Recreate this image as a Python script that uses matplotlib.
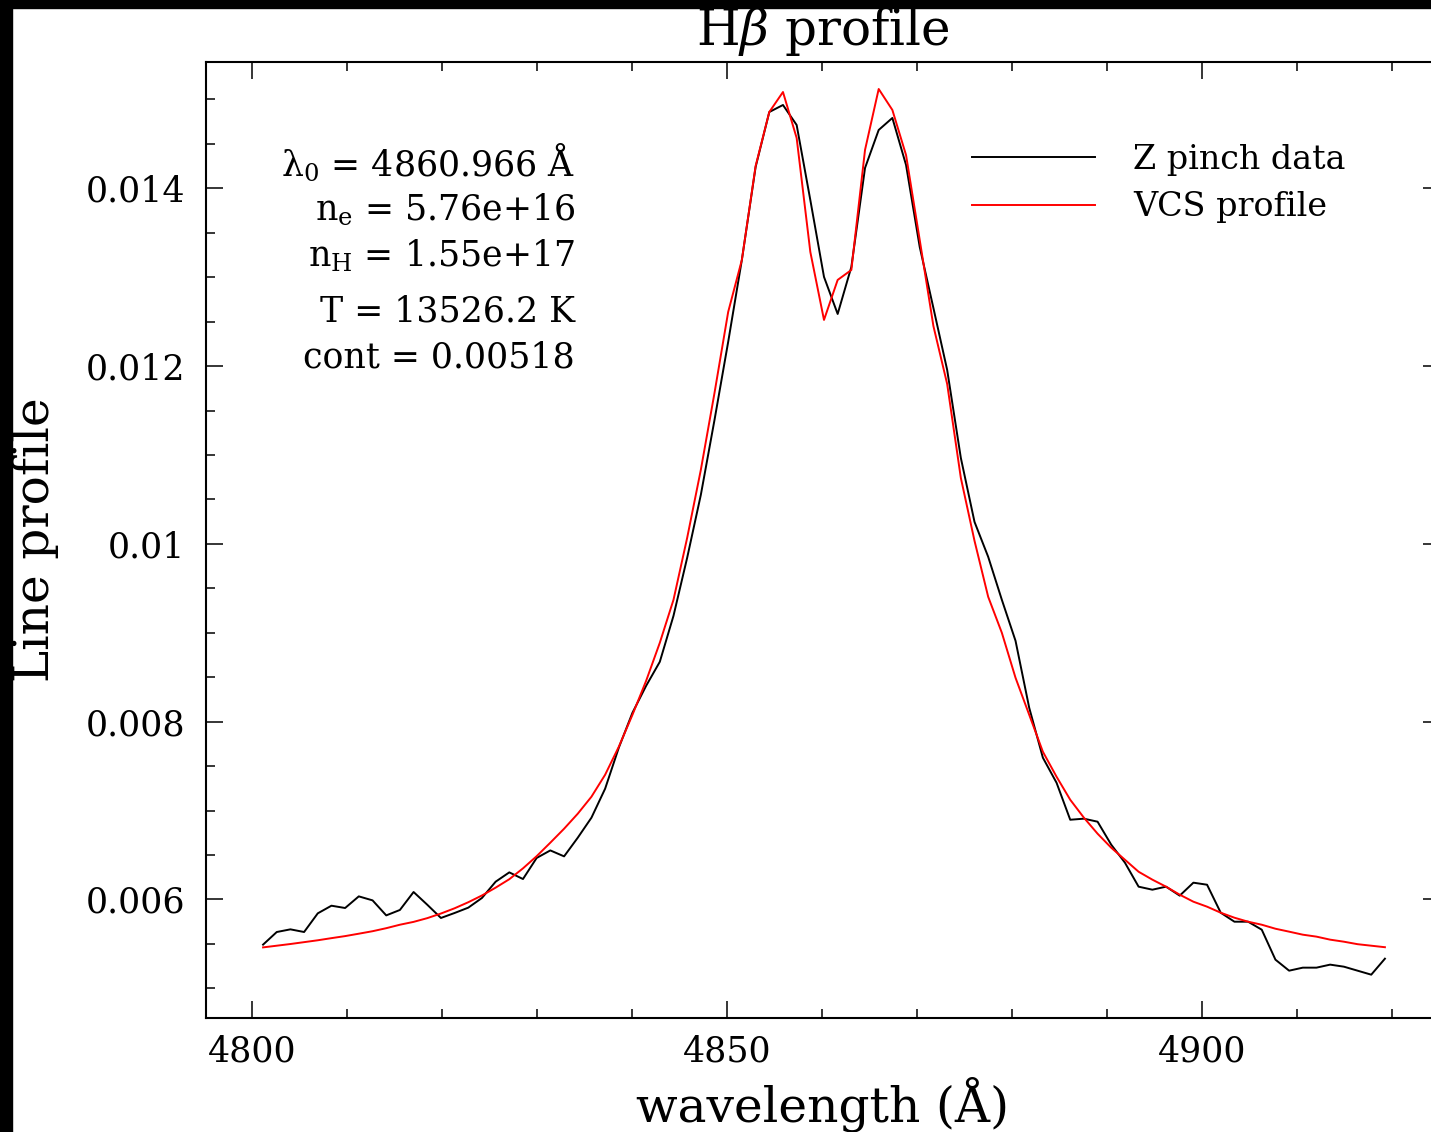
import matplotlib
matplotlib.use("Agg")
import matplotlib.pyplot as plt
from matplotlib.patches import Rectangle
from matplotlib.ticker import MultipleLocator, FuncFormatter

plt.rcParams['font.family'] = 'DejaVu Serif'
plt.rcParams['mathtext.fontset'] = 'dejavuserif'

# wavelength grid (Angstrom)
wavelength = [
    4801.16, 4802.60, 4804.04, 4805.48, 4806.92, 4808.36, 4809.80, 4811.24, 4812.69, 4814.13,
    4815.57, 4817.01, 4818.45, 4819.89, 4821.33, 4822.77, 4824.21, 4825.65, 4827.09, 4828.53,
    4829.97, 4831.41, 4832.86, 4834.30, 4835.74, 4837.18, 4838.62, 4840.06, 4841.50, 4842.94,
    4844.38, 4845.82, 4847.26, 4848.70, 4850.14, 4851.58, 4853.03, 4854.47, 4855.91, 4857.35,
    4858.79, 4860.23, 4861.67, 4863.11, 4864.55, 4865.99, 4867.43, 4868.87, 4870.31, 4871.75,
    4873.20, 4874.64, 4876.08, 4877.52, 4878.96, 4880.40, 4881.84, 4883.28, 4884.72, 4886.16,
    4887.60, 4889.04, 4890.48, 4891.92, 4893.36, 4894.81, 4896.25, 4897.69, 4899.13, 4900.57,
    4902.01, 4903.45, 4904.89, 4906.33, 4907.77, 4909.21, 4910.65, 4912.09, 4913.53, 4914.98,
    4916.42, 4917.86, 4919.30]

# measured Z pinch profile
zpinch = [
    0.005491, 0.005633, 0.005663, 0.005633, 0.005843, 0.005929, 0.005903, 0.006034, 0.005989, 0.005820,
    0.005881, 0.006083, 0.005940, 0.005791, 0.005847, 0.005907, 0.006016, 0.006199, 0.006304, 0.006229,
    0.006466, 0.006551, 0.006484, 0.006694, 0.006919, 0.007245, 0.007706, 0.008100, 0.008403, 0.008673,
    0.009190, 0.009843, 0.010551, 0.011394, 0.012272, 0.013194, 0.014240, 0.014858, 0.014937, 0.014712,
    0.013868, 0.013003, 0.012586, 0.013115, 0.014228, 0.014656, 0.014791, 0.014262, 0.013340, 0.012654,
    0.011957, 0.010967, 0.010247, 0.009854, 0.009370, 0.008909, 0.008156, 0.007594, 0.007312, 0.006896,
    0.006908, 0.006874, 0.006615, 0.006413, 0.006143, 0.006109, 0.006143, 0.006042, 0.006188, 0.006165,
    0.005850, 0.005749, 0.005749, 0.005659, 0.005322, 0.005198, 0.005232, 0.005232, 0.005266, 0.005243,
    0.005198, 0.005153, 0.005333]

# VCS model profile
vcs = [
    0.005460, 0.005479, 0.005498, 0.005519, 0.005540, 0.005564, 0.005587, 0.005614, 0.005642, 0.005676,
    0.005715, 0.005747, 0.005789, 0.005841, 0.005900, 0.005968, 0.006044, 0.006132, 0.006227, 0.006349,
    0.006486, 0.006638, 0.006795, 0.006964, 0.007155, 0.007402, 0.007717, 0.008077, 0.008459, 0.008887,
    0.009370, 0.010067, 0.010832, 0.011698, 0.012609, 0.013194, 0.014251, 0.014858, 0.015083, 0.014566,
    0.013284, 0.012519, 0.012969, 0.013081, 0.014431, 0.015117, 0.014881, 0.014374, 0.013419, 0.012451,
    0.011799, 0.010742, 0.010034, 0.009404, 0.008999, 0.008493, 0.008077, 0.007661, 0.007380, 0.007121,
    0.006919, 0.006739, 0.006581, 0.006446, 0.006311, 0.006222, 0.006143, 0.006053, 0.005974, 0.005918,
    0.005850, 0.005794, 0.005749, 0.005715, 0.005670, 0.005637, 0.005603, 0.005581, 0.005547, 0.005524,
    0.005496, 0.005479, 0.005462]

params = [r'λ$_0$ = 4860.966 Å',
          r'n$_\mathrm{e}$ = 5.76e+16',
          r'n$_\mathrm{H}$ = 1.55e+17',
          'T = 13526.2 K',
          'cont = 0.00518']

W, H = 1431, 1132
fig = plt.figure(figsize=(W / 100, H / 100), dpi=100)
ax = fig.add_axes([206 / W, 1 - 1017.7 / H, (1440 - 206) / W, (1017.7 - 61.7) / H])

ax.plot(wavelength, zpinch, color='black', lw=1.4, label='Z pinch data')
ax.plot(wavelength, vcs, color='red', lw=1.4, label='VCS profile')

ax.set_xlim(4795.15, 4925.1)
ax.set_ylim(0.004669, 0.015424)
ax.xaxis.set_major_locator(MultipleLocator(50))
ax.xaxis.set_minor_locator(MultipleLocator(10))
ax.yaxis.set_major_locator(MultipleLocator(0.002))
ax.yaxis.set_minor_locator(MultipleLocator(0.0005))
ax.yaxis.set_major_formatter(FuncFormatter(lambda v, p: '{:g}'.format(round(v, 6))))

ax.tick_params(which='both', direction='in', top=True, right=True, labelsize=25, width=1.1)
ax.tick_params(which='major', length=12.5)
ax.tick_params(which='minor', length=6.2)
ax.tick_params(axis='y', pad=15)
ax.tick_params(axis='x', pad=12)
for s in ax.spines.values():
    s.set_linewidth(1.5)

ax.set_xlabel('wavelength (Å)', fontsize=35, labelpad=6)
ax.set_ylabel('Line profile', fontsize=35, labelpad=19)
ax.set_title(r'H$\beta$ profile', fontsize=36, pad=12)

# fit parameters, right aligned, placed in pixels
baselines = [176.7, 220, 266.7, 321.7, 368]
for txt, yb in zip(params, baselines):
    fig.text(575 / W, 1 - yb / H, txt, ha='right', va='baseline', fontsize=25)

ax.legend(loc='upper left', bbox_to_anchor=((971.7 - 206) / (1440 - 206), 1 - (144 - 61.7) / (1017.7 - 61.7)),
          frameon=False, fontsize=24, handlelength=3.7, handletextpad=1.15,
          labelspacing=0.46, borderpad=0, borderaxespad=0)

# black frame strips along the top and left edge
fig.patches.append(Rectangle((0, 1 - 8.3 / H), 1, 8.3 / H, transform=fig.transFigure,
                             color='black', zorder=10))
fig.patches.append(Rectangle((0, 0), 12 / W, 1, transform=fig.transFigure,
                             color='black', zorder=10))

fig.savefig('out.png', dpi=100)
